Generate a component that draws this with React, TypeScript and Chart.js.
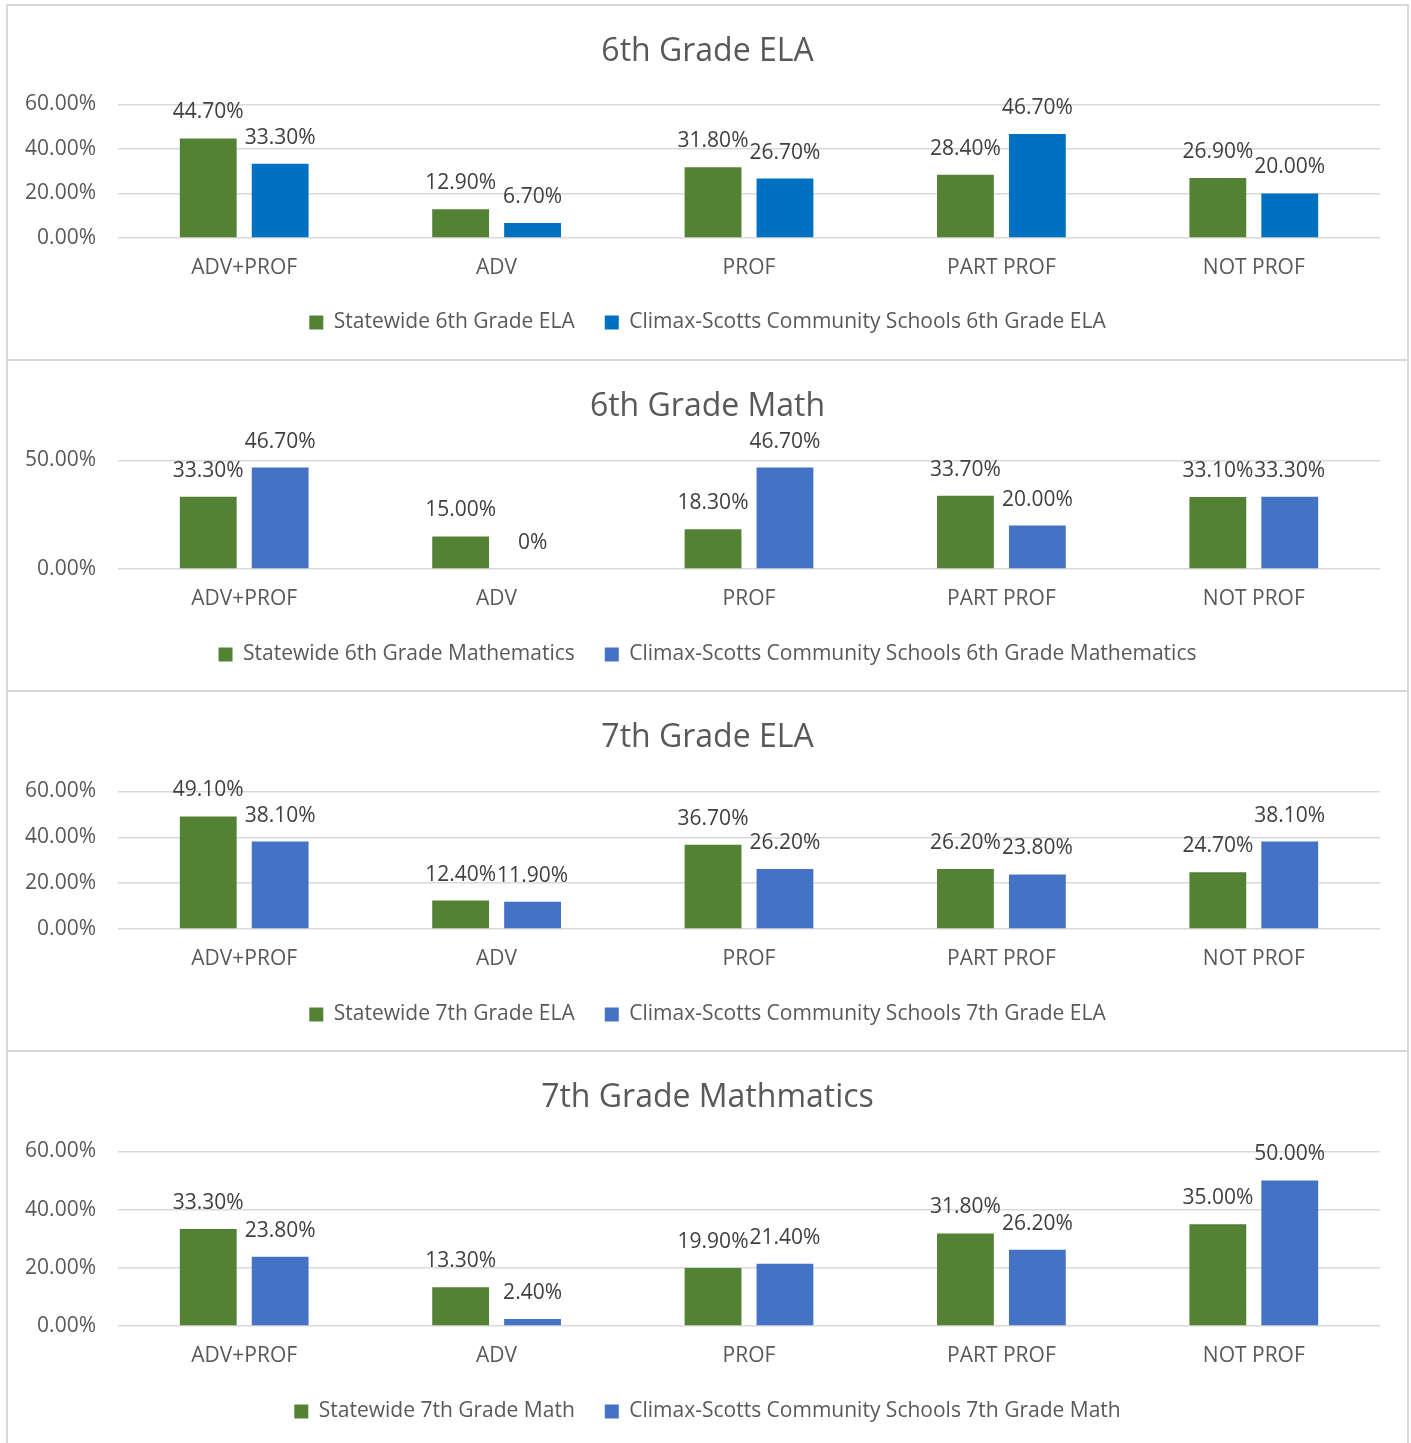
import React, { useEffect, useRef } from "react";
import { Chart, registerables } from "chart.js";

Chart.register(...registerables);

// ---- data ----
const categories = ["ADV+PROF", "ADV", "PROF", "PART PROF", "NOT PROF"];

const ela6State = [44.7, 12.9, 31.8, 28.4, 26.9];
const ela6District = [33.3, 6.7, 26.7, 46.7, 20.0];
const math6State = [33.3, 15.0, 18.3, 33.7, 33.1];
const math6District = [46.7, 0, 46.7, 20.0, 33.3];
const ela7State = [49.1, 12.4, 36.7, 26.2, 24.7];
const ela7District = [38.1, 11.9, 26.2, 23.8, 38.1];
const math7State = [33.3, 13.3, 19.9, 31.8, 35.0];
const math7District = [23.8, 2.4, 21.4, 26.2, 50.0];

const chartTitles = ["6th Grade ELA", "6th Grade Math", "7th Grade ELA", "7th Grade Mathmatics"];
const stateLabels = [
  "Statewide 6th Grade ELA",
  "Statewide 6th Grade Mathematics",
  "Statewide 7th Grade ELA",
  "Statewide 7th Grade Math",
];
const districtLabels = [
  "Climax-Scotts Community Schools 6th Grade ELA",
  "Climax-Scotts Community Schools 6th Grade Mathematics",
  "Climax-Scotts Community Schools 7th Grade ELA",
  "Climax-Scotts Community Schools 7th Grade Math",
];
const yMaxes = [60, 50, 60, 60];
const ySteps = [20, 50, 20, 20];

// ---- styling ----
const GREEN = "#548235";
const BLUE_DARK = "#0070C0";
const BLUE = "#4472C4";
const TEXT = "#595959";
const GRID = "#d9d9d9";
const FONT = "'Open Sans', 'Noto Sans', sans-serif";
const WIDTH = 1399;

const panels = [
  { top: 6, height: 353, state: ela6State, district: ela6District, blue: BLUE_DARK, padB: 16, xH: 44, titleB: 33 },
  { top: 361, height: 329, state: math6State, district: math6District, blue: BLUE, padB: 15, xH: 45, titleB: 34 },
  { top: 692, height: 358, state: ela7State, district: ela7District, blue: BLUE, padB: 15, xH: 45, titleB: 34 },
  { top: 1052, height: 391, state: math7State, district: math7District, blue: BLUE, padB: 11, xH: 45, titleB: 34 },
];

const dataLabelPlugin = {
  id: "dataLabels",
  afterDatasetsDraw(chart: any) {
    const ctx = chart.ctx;
    ctx.save();
    ctx.font = `21px ${FONT}`;
    ctx.fillStyle = "#404040";
    ctx.textAlign = "center";
    ctx.textBaseline = "middle";
    chart.data.datasets.forEach((ds: any, i: number) => {
      const meta = chart.getDatasetMeta(i);
      meta.data.forEach((el: any, j: number) => {
        const v = ds.data[j] as number;
        const txt = v === 0 ? "0%" : v.toFixed(2) + "%";
        ctx.fillText(txt, el.x, el.y - 26);
      });
    });
    ctx.restore();
  },
};

function Panel({ idx }: { idx: number }) {
  const ref = useRef<HTMLCanvasElement | null>(null);
  const p = panels[idx];
  useEffect(() => {
    if (!ref.current) return;
    const chart = new Chart(ref.current, {
      type: "bar",
      data: {
        labels: categories,
        datasets: [
          {
            label: stateLabels[idx],
            data: p.state,
            backgroundColor: GREEN,
            borderWidth: 0,
            categoryPercentage: 0.57,
            barPercentage: 0.79,
            yAxisID: "y",
          },
          {
            label: districtLabels[idx],
            data: p.district,
            backgroundColor: p.blue,
            borderWidth: 0,
            categoryPercentage: 0.57,
            barPercentage: 0.79,
            yAxisID: "y",
          },
        ],
      },
      options: {
        responsive: false,
        animation: false,
        devicePixelRatio: 1,
        layout: { padding: { left: 0, right: 0, top: 2, bottom: p.padB } },
        plugins: {
          title: {
            display: true,
            text: chartTitles[idx],
            color: TEXT,
            font: { family: FONT, size: 32, weight: "normal" },
            padding: { top: 25, bottom: p.titleB },
          },
          legend: {
            display: true,
            position: "bottom",
            labels: {
              color: TEXT,
              font: { family: FONT, size: 21 },
              boxWidth: 14,
              boxHeight: 14,
              padding: 30,
            },
          },
          tooltip: { enabled: false },
        },
        scales: {
          x: {
            grid: { display: false, drawTicks: false },
            border: { display: false },
            ticks: { color: TEXT, font: { family: FONT, size: 21 }, padding: 17 },
            afterFit: (s: any) => {
              s.height = p.xH;
            },
          },
          y: {
            position: "left",
            min: 0,
            max: yMaxes[idx],
            grid: { color: GRID, lineWidth: 1.5, drawTicks: false },
            border: { display: false },
            ticks: {
              stepSize: ySteps[idx],
              color: TEXT,
              font: { family: FONT, size: 21 },
              padding: 22,
              callback: (v: any) => Number(v).toFixed(2) + "%",
            },
            afterFit: (s: any) => {
              s.width = 110;
            },
          },
          yRight: {
            type: "linear",
            position: "right",
            display: true,
            grid: { display: false, drawTicks: false },
            border: { display: false },
            ticks: { display: false },
            afterFit: (s: any) => {
              s.width = 27;
            },
          },
        },
      },
      plugins: [dataLabelPlugin],
    } as any);
    return () => chart.destroy();
  }, [idx]);
  return (
    <canvas
      ref={ref}
      width={WIDTH}
      height={p.height}
      style={{ position: "absolute", left: 8, top: p.top, width: WIDTH, height: p.height, display: "block" }}
    />
  );
}

export default function App() {
  return (
    <div style={{ position: "absolute", left: 0, top: 0, width: 1411, height: 1443, background: "#fff", overflow: "hidden" }}>
      <div
        style={{
          position: "absolute",
          left: 6,
          top: 4,
          width: 1399,
          height: 1450,
          borderLeft: `2px solid ${GRID}`,
          borderRight: `2px solid ${GRID}`,
          borderTop: `2px solid ${GRID}`,
        }}
      />
      {[359, 690, 1050].map((t) => (
        <div key={t} style={{ position: "absolute", left: 8, top: t, width: WIDTH, height: 2, background: GRID }} />
      ))}
      {panels.map((_, i) => (
        <Panel key={i} idx={i} />
      ))}
    </div>
  );
}
